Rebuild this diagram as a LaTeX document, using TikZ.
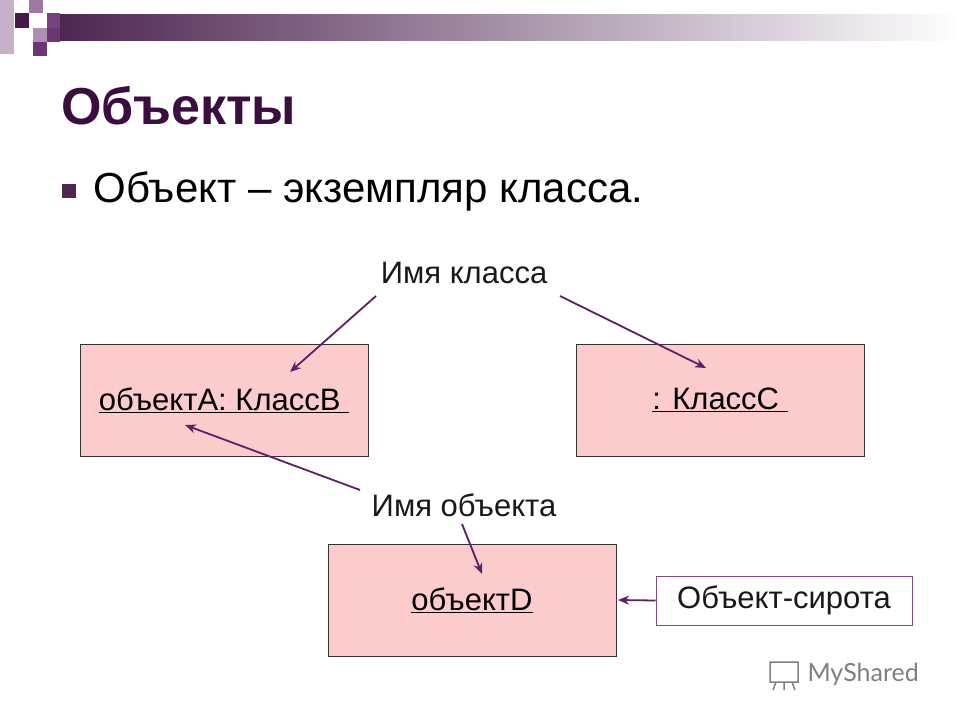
\documentclass[tikz,border=0pt]{standalone}
\usepackage{fontspec}
\setmainfont{Liberation Sans}
\newfontfamily\latofont{Lato}
\definecolor{boxfill}{HTML}{FCCCCC}
\definecolor{arr}{HTML}{5E1F66}
\definecolor{ttl}{HTML}{3A0E3E}
\tikzset{obj/.style={draw=black!80,fill=boxfill,line width=0.8pt,minimum width=288pt,minimum height=112pt,font=\fontsize{31}{36}\selectfont},
pointer/.style={draw=arr,line width=1.8pt,-{Stealth[length=11pt,width=9pt]}},
lbl/.style={font=\fontsize{31}{36}\selectfont,text=black!90}}
\usetikzlibrary{arrows.meta}
\begin{document}
\begin{tikzpicture}[x=1pt,y=-1pt]
\useasboundingbox (0,0) rectangle (960,720);
\fill[white] (0,0) rectangle (960,720);
% decoration
\shade[left color=ttl!90,right color=white] (60,14) rectangle (960,40);
\fill[ttl!95] (15,13) rectangle (29,28);
\fill[arr!60] (29,0) rectangle (43,13);
\fill[arr!35] (0,0) rectangle (14,54);
\fill[arr!50] (33,28) rectangle (47,42);
\fill[arr!90!white] (47,28) rectangle (60,42);
\fill[arr!90!white] (33,42) rectangle (47,56);
\fill[arr!85] (47,13) rectangle (60,28);
% title
\node[anchor=west,font=\fontsize{52}{60}\selectfont\bfseries,text=gray!60] at (61,110) {\phantom{О}};
\node[anchor=west,font=\fontsize{52}{60}\selectfont\bfseries,text=ttl] (title) at (58,106) {Объекты};
\fill[ttl!90] (62,184) rectangle (76,198);
\node[anchor=west,font=\fontsize{42}{48}\selectfont] (bullet) at (90,191) {Объект – экземпляр класса.};
% boxes
\node[obj] (A) at (224,400) {\underline{объектА: КлассВ\ }};
\node[obj] (C) at (720,400) {\underline{: КлассС\ }};
\node[obj] (D) at (472,600) {\underline{объектD}};
\node[draw=arr!80,line width=0.8pt,minimum width=256pt,minimum height=49pt,lbl] (O) at (784,600.5) {Объект-сирота};
\node[lbl] (cls) at (464,273) {Имя класса};
\node[lbl] (obn) at (464,505) {Имя объекта};
\coordinate (a1) at (376,296); \coordinate (a1e) at (290,372);
\coordinate (a2) at (560,296); \coordinate (a2e) at (706,368);
\coordinate (a3) at (360,490); \coordinate (a3e) at (185,425);
\coordinate (a4) at (462,524); \coordinate (a4e) at (482,574);
\coordinate (a5e) at (618,600);
\draw[pointer] (a1) -- (a1e);
\draw[pointer] (a2) -- (a2e);
\draw[pointer] (a3) -- (a3e);
\draw[pointer] (a4) -- (a4e);
\draw[pointer] (O.west) -- (a5e);
\node[anchor=west,font=\latofont\fontsize{25}{30}\selectfont,text=gray] (wm) at (804,674) {MyShared};
\draw[gray,line width=1.5pt] (770,662) rectangle (798,682) (776,682)--(773,690) (784,682)--(784,690) (792,682)--(795,690);
\end{tikzpicture}
\end{document}
